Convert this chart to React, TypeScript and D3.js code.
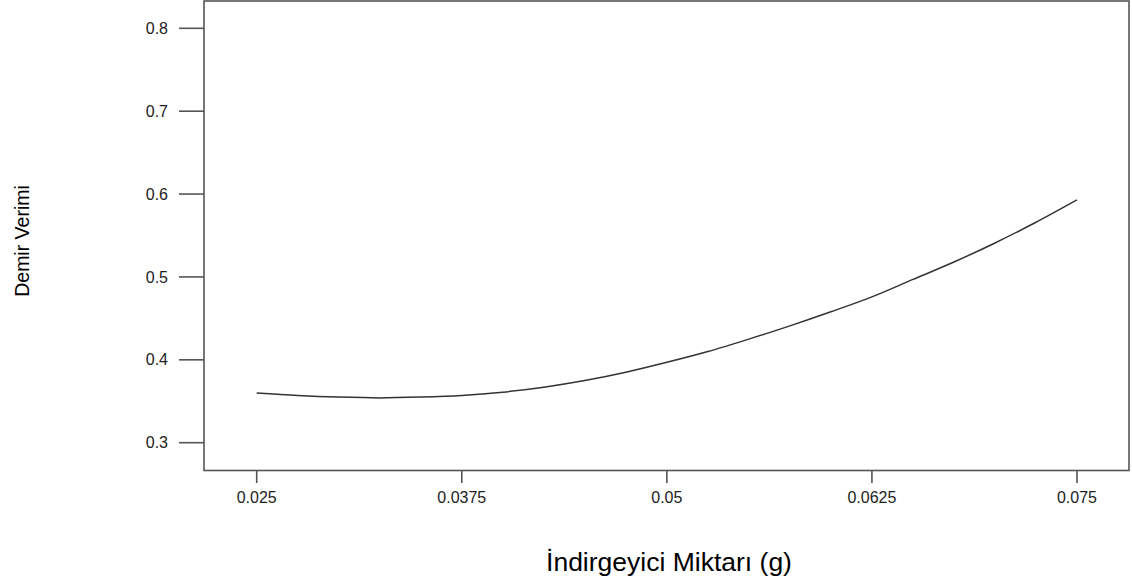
import React from "react";
import * as d3 from "d3";

const xValues = [0.025, 0.0275, 0.03, 0.0325, 0.035, 0.0375, 0.04, 0.0425, 0.045, 0.0475, 0.05, 0.0525, 0.055, 0.0575, 0.06, 0.0625, 0.065, 0.0675, 0.07, 0.0725, 0.075];
const yValues = [0.360, 0.357, 0.355, 0.354, 0.355, 0.357, 0.361, 0.367, 0.375, 0.385, 0.397, 0.410, 0.425, 0.441, 0.458, 0.476, 0.497, 0.518, 0.541, 0.566, 0.593];
const xTicks = [0.025, 0.0375, 0.05, 0.0625, 0.075];
const xTickLabels = ["0.025", "0.0375", "0.05", "0.0625", "0.075"];
const yTicks = [0.3, 0.4, 0.5, 0.6, 0.7, 0.8];
const yTickLabels = ["0.3", "0.4", "0.5", "0.6", "0.7", "0.8"];
const xTitle = "İndirgeyici Miktarı (g)";
const yTitle = "Demir Verimi";

const W = 1132;
const H = 583;
const box = { left: 204, top: 1, right: 1129, bottom: 470.5 };

export default function App() {
  const x = d3.scaleLinear().domain([0.025, 0.075]).range([256.7, 1077]);
  const y = d3.scaleLinear().domain([0.3, 0.8]).range([442.7, 28.3]);
  const data = xValues.map((v, i) => [v, yValues[i]] as [number, number]);
  const line = d3
    .line<[number, number]>()
    .x((d) => x(d[0]))
    .y((d) => y(d[1]))
    .curve(d3.curveMonotoneX);
  const font = "Arial, 'Liberation Sans', sans-serif";
  const stroke = "#555";
  return (
    <svg width={W} height={H} style={{ position: "absolute", left: 0, top: 0, background: "#fff" }} fontFamily={font}>
      <rect x={0} y={0} width={W} height={H} fill="#fff" />
      <rect
        x={box.left}
        y={box.top}
        width={box.right - box.left}
        height={box.bottom - box.top}
        fill="none"
        stroke={stroke}
        strokeWidth={1.6}
      />
      {yTicks.map((t, i) => (
        <g key={"y" + i}>
          <line x1={179} x2={box.left} y1={y(t)} y2={y(t)} stroke={stroke} strokeWidth={1.6} />
          <text x={168} y={y(t)} dy="0.35em" textAnchor="end" fontSize={16} fill="#222">
            {yTickLabels[i]}
          </text>
        </g>
      ))}
      {xTicks.map((t, i) => (
        <g key={"x" + i}>
          <line x1={x(t)} x2={x(t)} y1={box.bottom} y2={483} stroke={stroke} strokeWidth={1.6} />
          <text x={x(t)} y={503} textAnchor="middle" fontSize={16} fill="#222">
            {xTickLabels[i]}
          </text>
        </g>
      ))}
      <path d={line(data) || ""} fill="none" stroke="#333" strokeWidth={1.5} />
      <text
        transform={`translate(28.5,241) rotate(-90)`}
        textAnchor="middle"
        fontSize={19.5}
        fill="#000"
      >
        {yTitle}
      </text>
      <text x={669} y={571} textAnchor="middle" fontSize={26.5} fill="#000">
        {xTitle}
      </text>
    </svg>
  );
}
